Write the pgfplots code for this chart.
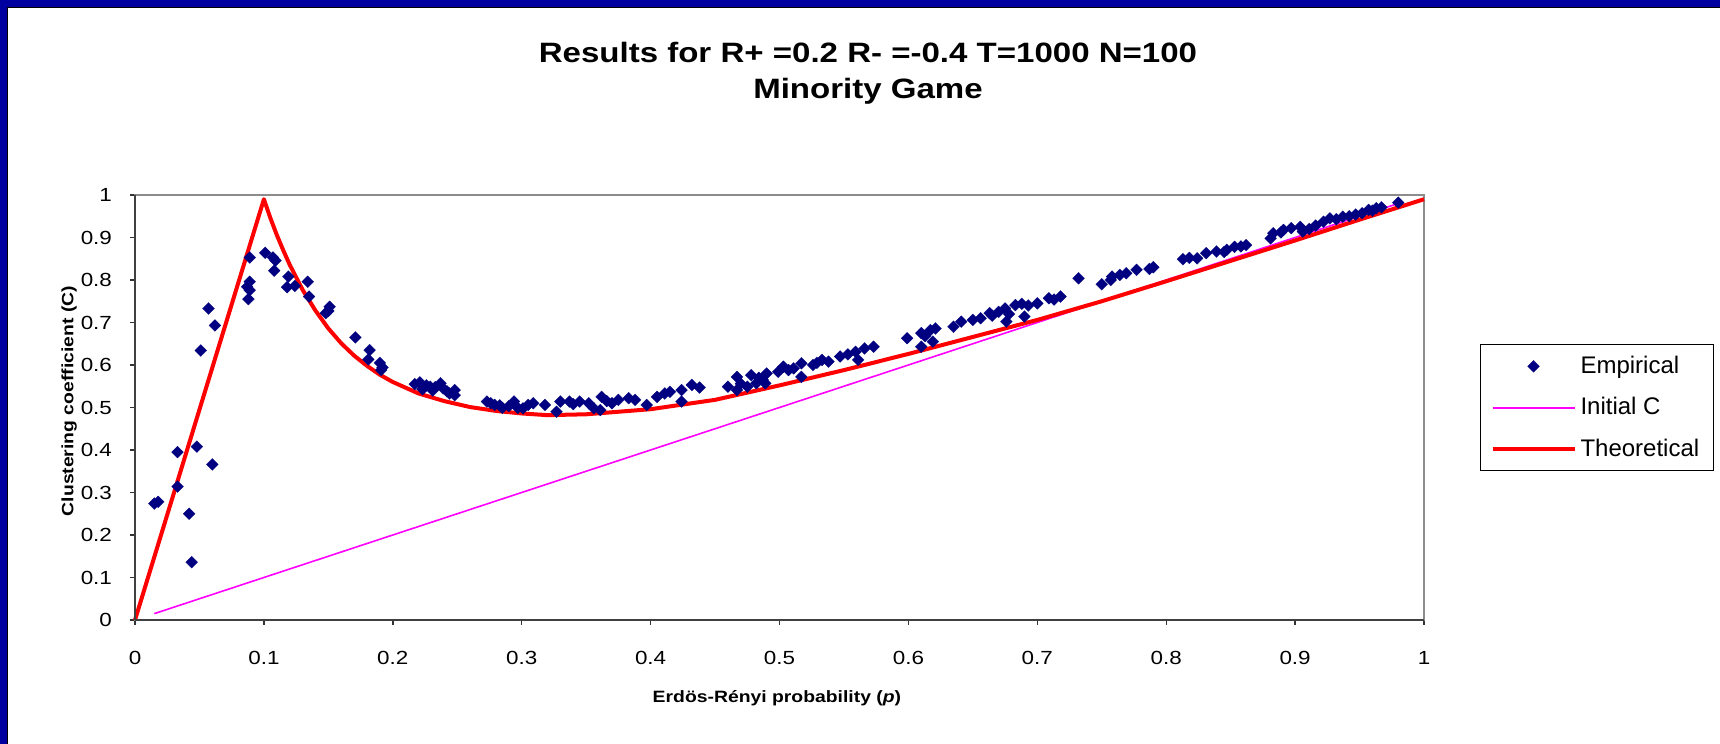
\documentclass[border=0pt]{standalone}
\usepackage{fontspec}
\setmainfont{Liberation Sans}
\newfontfamily\stretchfont{Liberation Sans}[FakeStretch=1.18]
\usepackage{pgfplots}
\pgfplotsset{compat=1.18}
\definecolor{frameblue}{RGB}{0,0,160}
\definecolor{navyblue}{RGB}{0,0,128}
\definecolor{mag}{RGB}{255,0,255}
\pgfplotsset{
 mylineleg/.style={legend image code/.code={\draw[##1] (0pt,0pt) -- (41pt,0pt);}},
 mymarkleg/.style={legend image code/.code={\draw[mark repeat=2,mark phase=2,##1] plot coordinates {(0pt,0pt) (20.5pt,0pt) (41pt,0pt)};}},
}
\pgfplotstableread{
p C
0.015 0.274
0.018 0.278
0.033 0.395
0.033 0.314
0.042 0.250
0.044 0.136
0.048 0.408
0.051 0.634
0.057 0.733
0.060 0.366
0.062 0.693
0.087 0.784
0.088 0.755
0.089 0.776
0.089 0.853
0.089 0.796
0.101 0.864
0.107 0.853
0.108 0.822
0.109 0.846
0.118 0.783
0.119 0.808
0.124 0.786
0.134 0.796
0.135 0.761
0.148 0.722
0.150 0.727
0.151 0.737
0.171 0.665
0.181 0.613
0.182 0.635
0.190 0.605
0.191 0.588
0.192 0.594
0.217 0.555
0.221 0.559
0.223 0.543
0.226 0.552
0.229 0.549
0.231 0.540
0.233 0.548
0.237 0.557
0.239 0.545
0.242 0.538
0.244 0.533
0.248 0.529
0.248 0.541
0.273 0.514
0.276 0.510
0.279 0.506
0.283 0.505
0.285 0.499
0.290 0.503
0.294 0.514
0.297 0.499
0.301 0.498
0.305 0.506
0.309 0.510
0.318 0.506
0.327 0.490
0.330 0.514
0.337 0.514
0.340 0.508
0.345 0.514
0.352 0.510
0.356 0.498
0.361 0.494
0.362 0.525
0.366 0.515
0.370 0.510
0.375 0.518
0.383 0.522
0.388 0.518
0.397 0.506
0.405 0.525
0.411 0.533
0.415 0.537
0.424 0.514
0.424 0.541
0.432 0.553
0.438 0.547
0.460 0.549
0.467 0.572
0.467 0.541
0.470 0.556
0.475 0.549
0.478 0.576
0.482 0.557
0.484 0.570
0.487 0.565
0.489 0.557
0.490 0.580
0.499 0.584
0.503 0.596
0.507 0.588
0.511 0.592
0.517 0.604
0.517 0.572
0.526 0.600
0.529 0.605
0.533 0.612
0.538 0.608
0.547 0.620
0.553 0.625
0.559 0.631
0.561 0.612
0.566 0.639
0.573 0.643
0.599 0.663
0.610 0.675
0.610 0.643
0.613 0.668
0.617 0.682
0.619 0.655
0.621 0.686
0.635 0.690
0.641 0.702
0.650 0.706
0.656 0.710
0.663 0.722
0.665 0.716
0.670 0.725
0.675 0.733
0.676 0.702
0.678 0.720
0.683 0.741
0.688 0.744
0.690 0.714
0.693 0.740
0.700 0.745
0.709 0.757
0.713 0.754
0.718 0.761
0.732 0.804
0.750 0.790
0.757 0.800
0.758 0.808
0.764 0.812
0.769 0.816
0.777 0.824
0.787 0.826
0.790 0.830
0.813 0.849
0.818 0.852
0.824 0.851
0.831 0.863
0.839 0.867
0.845 0.866
0.847 0.871
0.853 0.878
0.858 0.879
0.862 0.882
0.881 0.898
0.883 0.910
0.889 0.912
0.891 0.918
0.897 0.922
0.904 0.925
0.906 0.914
0.911 0.920
0.916 0.928
0.922 0.937
0.927 0.945
0.932 0.943
0.937 0.949
0.942 0.950
0.947 0.954
0.952 0.957
0.957 0.965
0.960 0.963
0.963 0.969
0.967 0.971
0.980 0.982
}\empirical
\pgfplotstableread{
p C
0.015 0.015
0.980 0.980
}\initialC
\pgfplotstableread{
p C
0.000 0.000
0.100 0.990
0.105 0.946
0.110 0.906
0.115 0.870
0.120 0.836
0.130 0.777
0.140 0.728
0.150 0.686
0.160 0.651
0.170 0.622
0.180 0.598
0.190 0.577
0.200 0.560
0.220 0.533
0.240 0.515
0.260 0.501
0.280 0.492
0.300 0.486
0.320 0.482
0.350 0.484
0.400 0.496
0.450 0.518
0.500 0.552
0.550 0.588
0.600 0.626
0.650 0.666
0.700 0.706
0.750 0.750
0.800 0.797
0.850 0.845
0.900 0.893
0.950 0.942
1.000 0.990
}\theory
\begin{document}
\begin{tikzpicture}
\useasboundingbox (0pt,0pt) rectangle (860pt,372pt);
\fill[white] (0pt,0pt) rectangle (860pt,372pt);
\fill[frameblue] (0pt,368.5pt) rectangle (860pt,372pt);
\fill[frameblue] (0pt,0pt) rectangle (3.5pt,372pt);
\draw[black, line width=0.5pt] (3.75pt,0pt) -- (3.75pt,368.25pt) -- (860pt,368.25pt);
\node[font=\stretchfont\bfseries\fontsize{14}{18.25}\selectfont, align=center] at (434pt,335.3pt) {Results for R+ =0.2 R- =-0.4 T=1000 N=100\\Minority Game};
\begin{axis}[
  at={(67.5pt,62pt)}, anchor=south west,
  scale only axis, width=644.5pt, height=212.5pt,
  xmin=0, xmax=1, ymin=0, ymax=1,
  xtick={0,0.1,0.2,0.3,0.4,0.5,0.6,0.7,0.8,0.9,1},
  ytick={0,0.1,0.2,0.3,0.4,0.5,0.6,0.7,0.8,0.9,1},
  tick pos=left, tick align=outside, major tick length=2.5pt,
  tick style={black!80, line width=0.7pt},
  axis line style={draw=black!45, line width=1.3pt},
  /pgf/number format/assume math mode=true,
  ticklabel style={font=\stretchfont\fontsize{9.5}{11}\selectfont},
  xticklabel style={yshift=-9.7pt},
  yticklabel style={xshift=-5.5pt},
  xlabel={\textbf{Erdös-Rényi probability (\textit{p})}},
  ylabel={\textbf{Clustering coefficient (C)}},
  label style={font=\stretchfont\fontsize{8.2}{10}\selectfont},
  xlabel style={at={(axis description cs:0.498,-0.1953)}, anchor=base},
  ylabel style={at={(axis description cs:-0.0478,0.515)}, anchor=base},
  legend style={at={(axis description cs:1.0434,0.4995)}, anchor=west, draw=black, line width=0.6pt,
     inner xsep=5pt, inner ysep=3.75pt, row sep=6.5pt, font=\fontsize{12}{14}\selectfont,
     nodes={inner sep=2pt}, /tikz/every even column/.append style={column sep=1pt}},
  legend cell align=left,
  clip=false,
]
\addlegendimage{only marks, mark=square*, mark size=2.1pt, color=navyblue, mark options={rotate=45, line width=0.1pt}, mymarkleg}
\addlegendentry{Empirical}
\addlegendimage{mag, line width=0.8pt, mylineleg}
\addlegendentry{Initial C}
\addlegendimage{red, line width=2pt, mylineleg}
\addlegendentry{Theoretical}
\addplot[forget plot, mag, line width=0.8pt] table[x=p,y=C] {\initialC};
\addplot[forget plot, red, line width=2pt, line join=round] table[x=p,y=C] {\theory};
\addplot[forget plot, only marks, mark=square*, mark size=2.1pt, color=navyblue, mark options={rotate=45, line width=0.1pt}] table[x=p,y=C] {\empirical};
\draw[black!75, line width=1.3pt] (rel axis cs:0,0) -- (rel axis cs:0,1);
\draw[black!75, line width=1.3pt] (rel axis cs:0,0) -- (rel axis cs:1,0);
\end{axis}
\end{tikzpicture}
\end{document}
